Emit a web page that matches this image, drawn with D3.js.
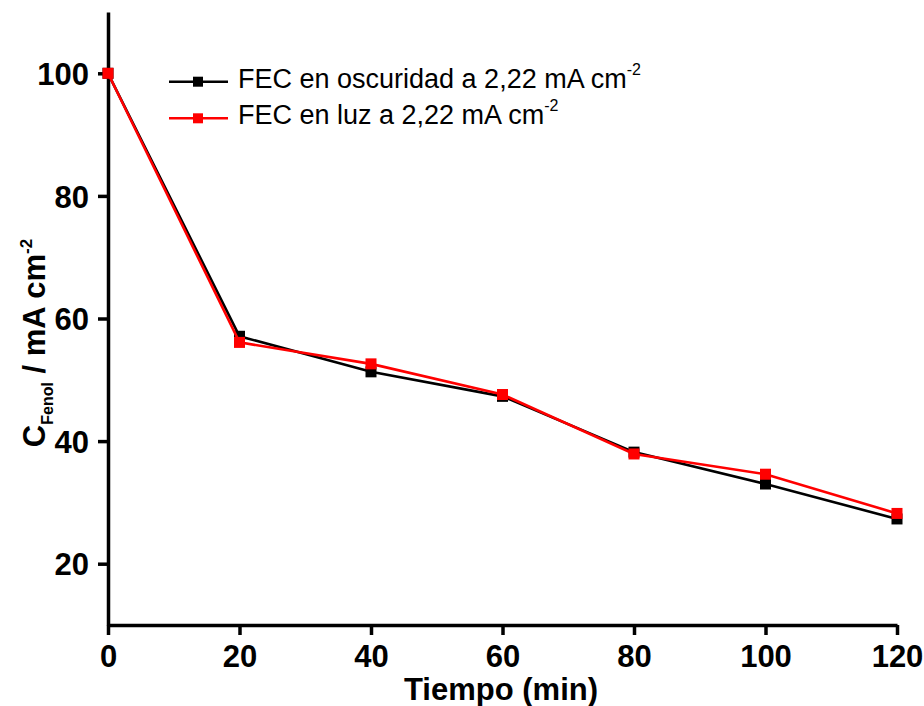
<!DOCTYPE html>
<html>
<head>
<meta charset="utf-8">
<script src="https://cdn.jsdelivr.net/npm/d3@7"></script>
<style>
  body { margin: 0; background: #fff; }
  svg { display: block; font-family: "Liberation Sans", Arial, sans-serif; }
</style>
</head>
<body>
<svg id="chart" width="924" height="706"></svg>
<script>
// Phenol concentration over electrolysis time
const tiempo = [0, 20, 40, 60, 80, 100, 120];
const oscuridad = [100, 57.1, 51.3, 47.3, 38.2, 33.0, 27.3];
const luz = [100, 56.1, 52.6, 47.6, 37.9, 34.6, 28.2];
const xTicks = [0, 20, 40, 60, 80, 100, 120];
const yTicks = [20, 40, 60, 80, 100];
const seriesNames = ["FEC en oscuridad a 2,22 mA cm", "FEC en luz a 2,22 mA cm"];
const seriesColors = ["#000000", "#ff0000"];

const svg = d3.select("#chart");
const x = d3.scaleLinear().domain([0, 120]).range([108, 897]);
const y = d3.scaleLinear().domain([10, 110]).range([625, 12]);

// axes
const xAxis = svg.append("g").attr("transform", "translate(0,625)")
  .call(d3.axisBottom(x).tickValues(xTicks).tickSize(10).tickPadding(10).tickSizeOuter(0));
const yAxis = svg.append("g").attr("transform", "translate(108,0)")
  .call(d3.axisLeft(y).tickValues(yTicks).tickSize(10).tickPadding(9).tickSizeOuter(0));
[xAxis, yAxis].forEach(g => {
  g.select(".domain").attr("stroke", "#000").attr("stroke-width", 3.5);
  g.selectAll(".tick line").attr("stroke", "#000").attr("stroke-width", 3.5);
  g.selectAll(".tick text").attr("fill", "#000")
    .style("font-size", "31px").style("font-weight", "bold")
    .style("font-family", "'Liberation Sans', Arial, sans-serif");
});
xAxis.selectAll(".tick text").attr("dy", "0.71em");
yAxis.selectAll(".tick text").attr("dy", "0.36em");

// series
const line = d3.line().x(d => x(d[0])).y(d => y(d[1]));
const series = [oscuridad, luz];
series.forEach((vals, i) => {
  const pts = tiempo.map((t, j) => [t, vals[j]]);
  svg.append("path").datum(pts)
    .attr("fill", "none").attr("stroke", seriesColors[i]).attr("stroke-width", 2.6)
    .attr("d", line);
  svg.append("g").selectAll("rect").data(pts).join("rect")
    .attr("x", d => x(d[0]) - 5.5).attr("y", d => y(d[1]) - 5.5)
    .attr("width", 11).attr("height", 11).attr("fill", seriesColors[i]);
});

// legend
const legend = svg.append("g");
seriesNames.forEach((name, i) => {
  const ly = 81.7 + i * 36.6;
  legend.append("line").attr("x1", 169).attr("x2", 228).attr("y1", ly).attr("y2", ly)
    .attr("stroke", seriesColors[i]).attr("stroke-width", 2.6);
  legend.append("rect").attr("x", 193).attr("y", ly - 5).attr("width", 10).attr("height", 10)
    .attr("fill", seriesColors[i]);
  const t = legend.append("text").attr("x", 238).attr("y", ly + 5.8)
    .style("font-size", "27px").attr("fill", "#000");
  t.append("tspan").text(name);
  t.append("tspan").attr("dy", -13).style("font-size", "16px").text("-2");
});

// axis titles
svg.append("text").attr("x", 501).attr("y", 700).attr("text-anchor", "middle")
  .style("font-size", "31px").style("font-weight", "bold").text("Tiempo (min)");

const yt = svg.append("text").attr("transform", "translate(45,343) rotate(-90)")
  .attr("text-anchor", "middle").style("font-size", "31px").style("font-weight", "bold");
yt.append("tspan").text("C");
yt.append("tspan").attr("dy", 8).style("font-size", "16px").text("Fenol");
yt.append("tspan").attr("dy", -8).text(" / mA cm");
yt.append("tspan").attr("dy", -13).style("font-size", "17px").text("-2");
</script>
</body>
</html>
